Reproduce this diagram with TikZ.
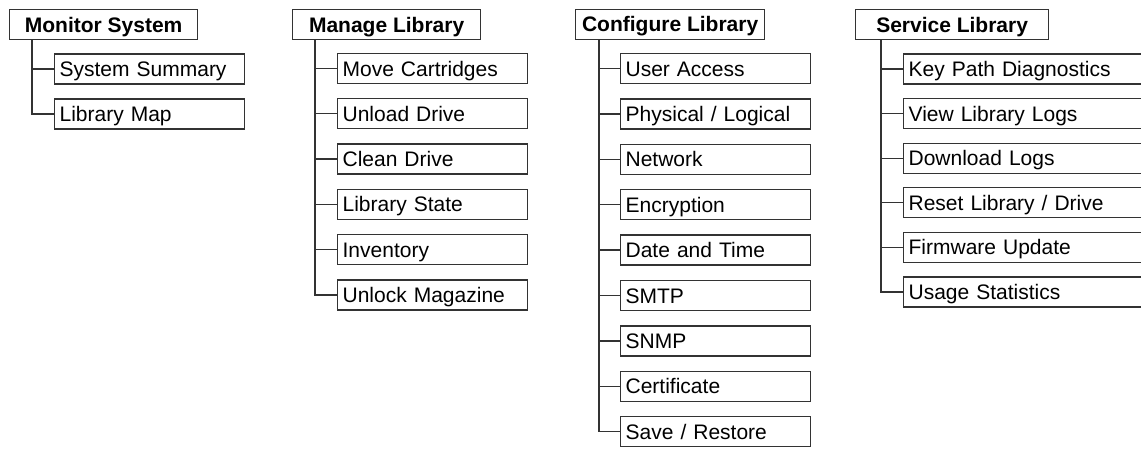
\documentclass[tikz,border=0pt]{standalone}
\usepackage{fontspec}
\setmainfont{Liberation Sans}
\definecolor{linecol}{gray}{0.2}
\begin{document}
\begin{tikzpicture}[x=1pt,y=-1pt,
  hdr/.style={draw=linecol, line width=1.3pt, minimum width=188pt, minimum height=30pt,
    inner sep=0pt, text height=15pt, text depth=0pt,
    font=\fontsize{21}{25}\selectfont\bfseries, anchor=north west},
  item/.style={draw=linecol, line width=1.3pt, text width=180pt, inner xsep=5pt, inner ysep=0pt,
    minimum height=30pt, text height=15pt, text depth=0pt, align=left, anchor=west,
    font=\fontsize{21}{25}\selectfont},
  conn/.style={draw=linecol, line width=1.3pt}]
\useasboundingbox (0,0) rectangle (1141,450);
\clip (0,0) rectangle (1141,450);

% Monitor System
\node[hdr] (h1) at (9,9) {Monitor System};
\coordinate (v1) at ([xshift=23pt]h1.south west);
\foreach \t [count=\i] in {System Summary, Library Map}
  \node[item] (a\i) at (54,{69+(\i-1)*45}) {\t};
\draw[conn] (v1) |- (a2.west);
\draw[conn] (a1.west) -- (a1.west -| v1);

% Manage Library
\node[hdr] (h2) at (292,9) {Manage Library};
\coordinate (v2) at ([xshift=23pt]h2.south west);
\foreach \t [count=\i] in {Move Cartridges, Unload Drive, Clean Drive, Library State, Inventory, Unlock Magazine}
  \node[item] (b\i) at (337,{68.5+(\i-1)*45.3}) {\t};
\draw[conn] (v2) |- (b6.west);
\foreach \i in {1,...,5}
  \draw[conn] (b\i.west) -- (b\i.west -| v2);

% Configure Library
\node[hdr, minimum width=189pt] (h3) at (575,8.5) {Configure Library};
\coordinate (v3) at ([xshift=24pt]h3.south west);
\foreach \t [count=\i] in {User Access, Physical / Logical, Network, Encryption, Date and Time, SMTP, SNMP, Certificate, Save / Restore}
  \node[item] (c\i) at (620,{68.5+(\i-1)*45.4}) {\t};
\draw[conn] (v3) |- (c9.west);
\foreach \i in {1,...,8}
  \draw[conn] (c\i.west) -- (c\i.west -| v3);

% Service Library
\node[hdr, minimum width=193pt] (h4) at (855,9) {Service Library};
\coordinate (v4) at ([xshift=26pt]h4.south west);
\foreach \t [count=\i] in {Key Path Diagnostics, View Library Logs, Download Logs, Reset Library / Drive, Firmware Update, Usage Statistics}
  \node[item, text width=240pt] (d\i) at (903,{69+(\i-1)*44.6}) {\t};
\draw[conn] (v4) |- (d6.west);
\foreach \i in {1,...,5}
  \draw[conn] (d\i.west) -- (d\i.west -| v4);
\end{tikzpicture}
\end{document}
